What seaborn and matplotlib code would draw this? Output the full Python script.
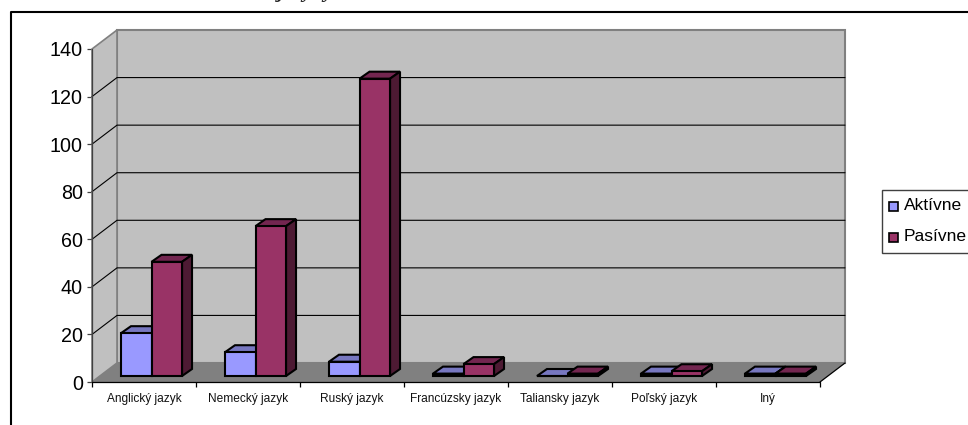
import matplotlib
matplotlib.use('Agg')
import matplotlib.pyplot as plt
import pandas as pd
import seaborn as sns
from matplotlib.patches import Polygon, Rectangle

# Data:
languages = ['Anglický jazyk', 'Nemecký jazyk', 'Ruský jazyk', 'Francúzsky jazyk',
             'Taliansky jazyk', 'Poľský jazyk', 'Iný']
aktivne = [18, 10, 6, 1, 0, 1, 1]
pasivne = [48, 63, 125, 5, 1, 2, 1]
y_ticks = [0, 20, 40, 60, 80, 100, 120, 140]

df = pd.DataFrame({'jazyk': languages * 2,
                   'typ': ['Aktívne'] * 7 + ['Pasívne'] * 7,
                   'pocet': aktivne + pasivne})

sns.set_style('white')
plt.rcParams['font.family'] = ['Liberation Sans', 'DejaVu Sans']

W, H = 968, 425
fig = plt.figure(figsize=(W / 100, H / 100), dpi=100)


def px_rect(left, top, right, bottom):
    return [left / W, 1 - bottom / H, (right - left) / W, (bottom - top) / H]


# Front plane of the fake 3D box:
ax = fig.add_axes(px_rect(92, 49, 820, 382))
ax.set_xlim(-0.5, 6.5)
ax.set_ylim(0, 140)
ax.patch.set_alpha(0)
for s in ax.spines.values():
    s.set_visible(False)

# depth of the box, in data units
dx = 25 / 104
dy = 19 / 2.379
x0, x1 = -0.5, 6.5
wall = '#C0C0C0'
edge = '#808080'
ax.add_patch(Polygon([(x0 + dx, dy), (x1 + dx, dy), (x1 + dx, 140 + dy), (x0 + dx, 140 + dy)],
                     fc=wall, ec=edge, lw=1.5, clip_on=False, zorder=1))
ax.add_patch(Polygon([(x0, 0), (x0 + dx, dy), (x0 + dx, 140 + dy), (x0, 140)],
                     fc=wall, ec=edge, lw=1.2, clip_on=False, zorder=1))
ax.add_patch(Polygon([(x0, 0), (x1, 0), (x1 + dx, dy), (x0 + dx, dy)],
                     fc=edge, ec='none', clip_on=False, zorder=1))
for t in y_ticks[1:-1]:
    ax.plot([x0, x0 + dx, x1 + dx], [t, t + dy, t + dy], color='black', lw=0.8,
            clip_on=False, zorder=2)
ax.plot([x0, x0], [0, 140], color='#404040', lw=0.9, clip_on=False, zorder=3)
ax.plot([x0, x1], [0, 0], color='black', lw=0.9, clip_on=False, zorder=3)
ax.plot([x1, x1 + dx], [0, dy], color='black', lw=0.9, clip_on=False, zorder=3)

ax.set_yticks(y_ticks)
ax.tick_params(axis='y', length=3.6, width=0.9, labelsize=14.2, pad=3, color='#404040',
               labelcolor='black', left=True)
ax.set_xticks([i - 0.5 for i in range(8)])
ax.set_xticklabels([])
ax.tick_params(axis='x', length=3.6, width=0.9, color='black', bottom=True)
for i, name in enumerate(languages):
    ax.text(i, -7.3, name, ha='center', va='center', fontsize=8.6, color='#111111')

# Bars sit a little inside the box, so they get their own shifted axes:
ax_b = fig.add_axes(px_rect(99.5, 43, 827.5, 376))
sns.barplot(data=df, x='jazyk', y='pocet', hue='typ', palette=['#9999FF', '#993366'],
            width=0.587, gap=0, saturation=1, edgecolor='black', linewidth=1.5,
            legend=False, ax=ax_b, zorder=5)
ax_b.set_xlim(-0.5, 6.5)
ax_b.set_ylim(0, 140)
ax_b.set_axis_off()
ax_b.patch.set_alpha(0)

bar_dx = 10 / 104
bar_dy = 7 / 2.379
tops = {'#9999FF': '#7777C0', '#993366': '#732650'}
sides = {'#9999FF': '#4D4D80', '#993366': '#4D1A33'}
bars = list(ax_b.patches)
for n, bar in enumerate(bars):
    x, w, h = bar.get_x(), bar.get_width(), bar.get_height()
    passive = n >= 7
    key = '#993366' if passive else '#9999FF'
    z = 6 if passive else 5
    bar.set_zorder(z + 0.5)
    bar.set_clip_on(False)
    ax_b.add_patch(Polygon([(x, h), (x + w, h), (x + w + bar_dx, h + bar_dy), (x + bar_dx, h + bar_dy)],
                           fc=tops[key], ec='black', lw=1.5, clip_on=False, zorder=z))
    ax_b.add_patch(Polygon([(x + w, 0), (x + w + bar_dx, bar_dy), (x + w + bar_dx, h + bar_dy), (x + w, h)],
                           fc=sides[key], ec='black', lw=1.5, clip_on=False, zorder=z))

# Outer frame, open to the right and bottom of the crop:
frame = fig.add_axes([0, 0, 1, 1], zorder=-1)
frame.set_xlim(0, W)
frame.set_ylim(H, 0)
frame.set_axis_off()
frame.plot([11, 11, W], [H, 12, 12], color='black', lw=1.5)

# Legend drawn by hand so it can run off the edge like the reference:
leg = fig.add_axes([0, 0, 1, 1], zorder=10)
leg.set_xlim(0, W)
leg.set_ylim(H, 0)
leg.set_axis_off()
leg.add_patch(Rectangle((882, 190), 100, 63, fc='white', ec='#404040', lw=1))
for yy, label, col in [(206, 'Aktívne', '#9999FF'), (237, 'Pasívne', '#993366')]:
    leg.add_patch(Rectangle((888.5, yy - 4.5), 9, 9, fc=col, ec='black', lw=1.2))
    leg.text(904, yy - 1, label, va='center', ha='left', fontsize=12.6, color='black')

# Bottom of the cropped-off title:
leg.text(306, -3, 'jazyky', ha='center', va='baseline', fontsize=16,
         fontweight='bold', style='italic', family='Liberation Serif')

fig.savefig('out.png', dpi=100)
